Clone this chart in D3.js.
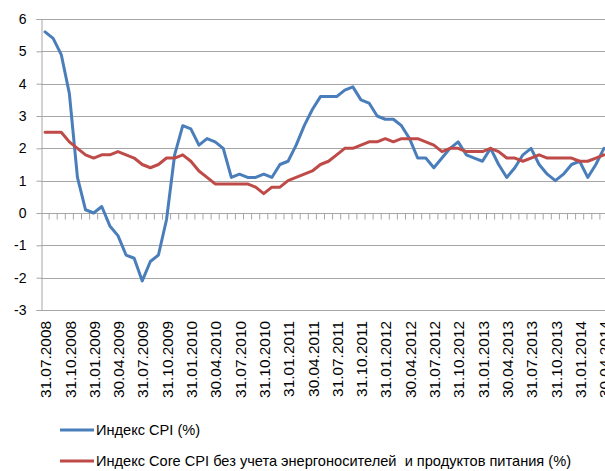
<!DOCTYPE html>
<html lang="ru">
<head>
<meta charset="UTF-8">
<title>CPI vs Core CPI</title>
<style>
  body { margin: 0; background: #fff; }
  svg { display: block; }
  .axis text { font-family: "Liberation Sans", Arial, sans-serif; font-size: 14px; fill: #000; }
  .x.axis text { font-size: 15.4px; }
  .legend text { font-family: "Liberation Sans", Arial, sans-serif; font-size: 14.6px; fill: #000; }
</style>
<script src="https://d3js.org/d3.v7.min.js"></script>
</head>
<body>
<svg width="605" height="471"></svg>
<script>
// monthly, 31.07.2008 .. 30.04.2014
var cpi = [5.6, 5.4, 4.9, 3.7, 1.1, 0.1, 0.0, 0.2, -0.4, -0.7, -1.3, -1.4,
  -2.1, -1.5, -1.3, -0.2, 1.8, 2.7, 2.6, 2.1, 2.3, 2.2, 2.0, 1.1,
  1.2, 1.1, 1.1, 1.2, 1.1, 1.5, 1.6, 2.1, 2.7, 3.2, 3.6, 3.6,
  3.6, 3.8, 3.9, 3.5, 3.4, 3.0, 2.9, 2.9, 2.7, 2.3, 1.7, 1.7,
  1.4, 1.7, 2.0, 2.2, 1.8, 1.7, 1.6, 2.0, 1.5, 1.1, 1.4, 1.8,
  2.0, 1.5, 1.2, 1.0, 1.2, 1.5, 1.6, 1.1, 1.5, 2.0]
var coreCpi = [2.5, 2.5, 2.5, 2.2, 2.0, 1.8, 1.7, 1.8, 1.8, 1.9, 1.8, 1.7,
  1.5, 1.4, 1.5, 1.7, 1.7, 1.8, 1.6, 1.3, 1.1, 0.9, 0.9, 0.9,
  0.9, 0.9, 0.8, 0.6, 0.8, 0.8, 1.0, 1.1, 1.2, 1.3, 1.5, 1.6,
  1.8, 2.0, 2.0, 2.1, 2.2, 2.2, 2.3, 2.2, 2.3, 2.3, 2.3, 2.2,
  2.1, 1.9, 2.0, 2.0, 1.9, 1.9, 1.9, 2.0, 1.9, 1.7, 1.7, 1.6,
  1.7, 1.8, 1.7, 1.7, 1.7, 1.7, 1.6, 1.6, 1.7, 1.8]
var yTicks = [-3, -2, -1, 0, 1, 2, 3, 4, 5, 6]
var seriesNames = ['Индекс CPI (%)',
  'Индекс Core CPI без учета энергоносителей  и продуктов питания (%)']
var colors = ['#4a7ebb', '#be4b48']

// month-end dates as category labels
var fmt = d3.timeFormat('%d.%m.%Y')
var months = d3.timeMonth.range(new Date(2008, 6, 1), new Date(2014, 4, 1))
var labels = months.map(function(m) {
  return fmt(d3.timeDay.offset(d3.timeMonth.offset(m, 1), -1))
})

var svg = d3.select('svg')
var plotLeft = 41, plotTop = 19, plotBottom = 310, step = 8.1

var x = d3.scaleBand()
  .domain(labels)
  .range([plotLeft, plotLeft + step * labels.length])
var y = d3.scaleLinear().domain([-3, 6]).range([plotBottom, plotTop])

// gridlines
svg.append('g')
  .selectAll('line')
  .data(yTicks)
  .enter()
  .append('line')
  .attr('x1', plotLeft)
  .attr('x2', x.range()[1])
  .attr('y1', function(d) { return Math.round(y(d)) + 0.5 })
  .attr('y2', function(d) { return Math.round(y(d)) + 0.5 })
  .attr('stroke', '#a6a6a6')
  .attr('stroke-width', 1)

// y axis
var yAxis = svg.append('g')
  .attr('class', 'axis')
  .attr('transform', 'translate(' + (plotLeft + 0.5) + ',0)')
  .call(d3.axisLeft(y).tickValues(yTicks).tickSize(5).tickPadding(10).tickFormat(d3.format('d')))
yAxis.selectAll('path, line').attr('stroke', '#a6a6a6')
yAxis.selectAll('text').text(function(d) { return d < 0 ? '-' + Math.abs(d) : d })

// tick marks between categories on the zero line
var tickAxis = svg.append('g')
  .attr('transform', 'translate(' + (x.step() / 2) + ',' + (Math.round(y(0)) + 0.5) + ')')
  .call(d3.axisBottom(x).tickSizeInner(6).tickSizeOuter(0).tickFormat(''))
tickAxis.select('.domain').remove()
tickAxis.selectAll('line').attr('stroke', '#a6a6a6')

// category labels at the bottom, every 3rd month
var xAxis = svg.append('g')
  .attr('class', 'x axis')
  .attr('transform', 'translate(0,' + plotBottom + ')')
  .call(d3.axisBottom(x)
    .tickValues(labels.filter(function(d, i) { return i % 3 === 0 }))
    .tickSize(0))
xAxis.select('.domain').remove()
xAxis.selectAll('text')
  .attr('transform', 'rotate(-90)')
  .attr('text-anchor', 'end')
  .attr('x', -11)
  .attr('y', 0)
  .attr('dy', '0.4em')

// series lines
var line = d3.line()
  .x(function(d, i) { return x(labels[i]) + x.bandwidth() / 2 })
  .y(function(d) { return y(d) })

;[cpi, coreCpi].forEach(function(s, k) {
  svg.append('path')
    .datum(s)
    .attr('fill', 'none')
    .attr('stroke', colors[k])
    .attr('stroke-width', 3)
    .attr('stroke-linejoin', 'round')
    .attr('stroke-linecap', 'round')
    .attr('d', line)
})

// legend
var legend = svg.append('g')
  .attr('class', 'legend')
  .selectAll('g')
  .data(seriesNames)
  .enter()
  .append('g')
  .attr('transform', function(d, i) { return 'translate(60,' + (430 + i * 31) + ')' })
legend.append('line')
  .attr('x1', 0)
  .attr('x2', 34)
  .attr('stroke', function(d, i) { return colors[i] })
  .attr('stroke-width', 3)
legend.append('text')
  .attr('x', 36)
  .attr('dy', '0.35em')
  .style('white-space', 'pre')
  .text(function(d) { return d })
</script>
</body>
</html>
